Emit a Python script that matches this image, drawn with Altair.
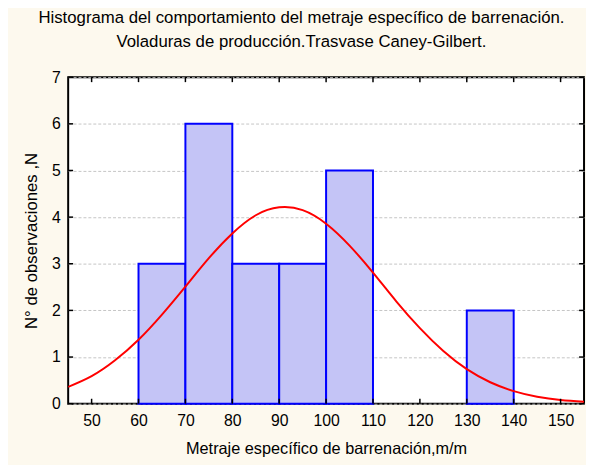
import altair as alt
import pandas as pd

# Histogram bins (lower, upper, count)
bin_lo = [60, 70, 80, 90, 100, 130]
bin_hi = [70, 80, 90, 100, 110, 140]
counts = [3, 6, 3, 3, 5, 2]

# Fitted normal curve (expected counts)
curve_x = [45, 50, 55, 60, 65, 70, 75, 80, 85, 90, 95, 100, 105, 110,
           115, 120, 125, 130, 135, 140, 145, 150, 155]
curve_y = [0.36, 0.59, 0.93, 1.37, 1.91, 2.51, 3.12, 3.65, 4.04, 4.21, 4.15,
           3.86, 3.39, 2.81, 2.19, 1.62, 1.13, 0.74, 0.46, 0.27, 0.15, 0.08, 0.04]

x_ticks = [50, 60, 70, 80, 90, 100, 110, 120, 130, 140, 150]
y_ticks = [0, 1, 2, 3, 4, 5, 6, 7]

W, H = 523, 331
FONT = "Liberation Sans"

bars_df = pd.DataFrame({"lo": bin_lo, "hi": bin_hi, "n": counts})
curve_df = pd.DataFrame({"x": curve_x, "y": curve_y})
xt_df = pd.DataFrame({"x": x_ticks})
yt_df = pd.DataFrame({"y": y_ticks})

xscale = alt.Scale(domain=[45, 155], nice=False, zero=False)
yscale = alt.Scale(domain=[0, 7], nice=False)

xaxis = alt.Axis(values=x_ticks, title="Metraje específico de barrenación,m/m",
                 domain=False, ticks=False, grid=False, labelFontSize=16,
                 labelPadding=9, titleFontSize=16.5, titlePadding=13,
                 labelColor="#000", titleColor="#000", labelFont=FONT,
                 titleFont=FONT, titleFontWeight="normal")
yaxis = alt.Axis(values=y_ticks, title="N° de observaciones ,N",
                 domain=False, ticks=False, grid=True, gridColor="#C4C4C4",
                 gridDash=[3, 2], gridWidth=1, labelFontSize=16, labelPadding=8,
                 titleFontSize=17, titlePadding=11, labelColor="#000",
                 titleColor="#000", labelFont=FONT, titleFont=FONT,
                 titleFontWeight="normal")

grid = alt.Chart(yt_df).mark_rule(opacity=0).encode(
    y=alt.Y("y:Q", scale=yscale, axis=yaxis)
)

bars = alt.Chart(bars_df).mark_rect(
    fill="#C4C4F6", stroke="#0000FF", strokeWidth=2
).encode(
    x=alt.X("lo:Q", scale=xscale, axis=xaxis),
    x2="hi:Q",
    y=alt.Y("n:Q", scale=yscale),
    y2=alt.datum(0),
)

curve = alt.Chart(curve_df).mark_line(
    color="#FF0000", strokeWidth=2, interpolate="natural", clip=True
).encode(
    x=alt.X("x:Q", scale=xscale),
    y=alt.Y("y:Q", scale=yscale),
)

tick_style = dict(color="#000", strokeWidth=1.5)
xt_bottom = alt.Chart(xt_df).mark_rule(**tick_style).encode(
    x=alt.X("x:Q", scale=xscale), y=alt.value(H - 5), y2=alt.value(H)
)
xt_top = alt.Chart(xt_df).mark_rule(**tick_style).encode(
    x=alt.X("x:Q", scale=xscale), y=alt.value(0), y2=alt.value(5)
)
yt_left = alt.Chart(yt_df).mark_rule(**tick_style).encode(
    y=alt.Y("y:Q", scale=yscale), x=alt.value(0), x2=alt.value(5)
)
yt_right = alt.Chart(yt_df).mark_rule(**tick_style).encode(
    y=alt.Y("y:Q", scale=yscale), x=alt.value(W - 5), x2=alt.value(W)
)

chart = alt.layer(
    grid, bars, curve, xt_bottom, xt_top, yt_left, yt_right
).properties(
    width=W,
    height=H,
    title=alt.Title(
        ["Histograma del comportamiento del metraje específico de barrenación.",
         "Voladuras de producción.Trasvase Caney-Gilbert."],
        fontSize=17, font=FONT, fontWeight="normal", color="#000",
        anchor="middle", dx=-25, offset=19, lineHeight=24,
    ),
    autosize=alt.AutoSizeParams(type="none"),
    padding={"left": 61, "top": 67, "right": 2, "bottom": 59},
    background="#FDF9EE",
).configure_view(
    stroke="#000", strokeWidth=2, fill="#FFFFFF"
)

chart.save("out.html", embed_options={"renderer": "svg", "actions": False})
